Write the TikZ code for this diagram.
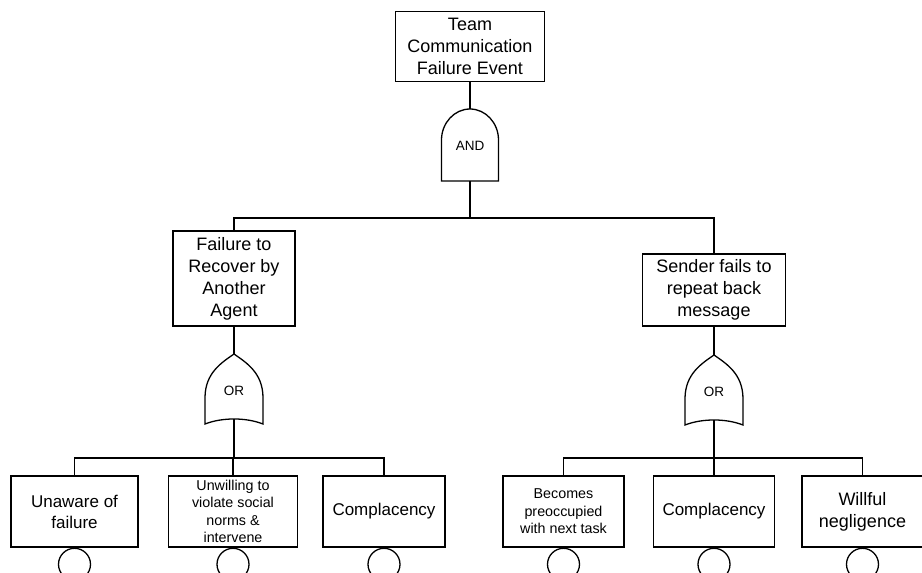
\documentclass[tikz,border=0pt]{standalone}
\usepackage{fontspec}
\setmainfont{Liberation Sans}
\begin{document}
\begin{tikzpicture}[x=1pt,y=-1pt,line width=1.3pt,
  evt/.style={draw,rectangle,inner sep=0pt,align=center,minimum height=71pt},
  big/.style={font=\fontsize{18}{22}\selectfont},
  mid/.style={font=\fontsize{17}{21}\selectfont},
  small/.style={font=\fontsize{14.3}{17.5}\selectfont},
  glbl/.style={font=\fontsize{13.5}{15}\selectfont,inner sep=0pt},
  basic/.style={draw,circle,minimum size=32pt,inner sep=0pt,anchor=north},
  andgate/.pic={
    \draw (-28.5,0) -- (-28.5,-41)
      .. controls (-28.5,-58) and (-15.7,-72) .. (0,-72)
      .. controls (15.7,-72) and (28.5,-58) .. (28.5,-41)
      -- (28.5,0) -- cycle;
    \coordinate (-top) at (0,-72);
    \coordinate (-bot) at (0,0);
    \node[glbl] (-lbl) at (0,-35) {AND};
  },
  orgate/.pic={
    \draw (0,-65) .. controls (13,-56) and (28.5,-46) .. (29,-22)
      -- (29,5) .. controls (12,-1.7) and (-12,-1.7) .. (-29,5)
      -- (-29,-22) .. controls (-28.5,-46) and (-13,-56) .. (0,-65) -- cycle;
    \coordinate (-top) at (0,-65);
    \coordinate (-bot) at (0,0);
    \node[glbl] (-lbl) at (0,-28) {OR};
  }]
  \fill[white] (0,0) rectangle (922,573);
  \clip (0,0) rectangle (922,573);

  % top event and AND gate
  \node[evt,big,minimum width=149pt,minimum height=70pt] (top) at (470,46.5)
    {Team\\Communication\\Failure Event};
  \pic (g0) at (470,181) {andgate};

  % intermediate events
  \node[evt,big,minimum width=122pt,minimum height=95pt] (lmid) at (234,278.5)
    {Failure to\\Recover by\\Another\\Agent};
  \node[evt,big,minimum width=143pt,minimum height=72pt] (rmid) at (714,290)
    {Sender fails to\\repeat back\\message};

  % OR gates
  \pic (g1) at (234,419) {orgate};
  \pic (g2) at (714,420) {orgate};

  % basic events
  \node[evt,mid,minimum width=127pt] (b1) at (74.5,511.5) {Unaware of\\failure};
  \node[evt,small,minimum width=129pt] (b2) at (233,511.5)
    {Unwilling to\\violate social\\norms \&\\intervene};
  \node[evt,mid,minimum width=122pt] (b3) at (384,511.5) {Complacency};
  \node[evt,small,minimum width=121pt] (b4) at (563.5,511.5)
    {Becomes\\preoccupied\\with next task};
  \node[evt,mid,minimum width=121pt] (b5) at (714,511.5) {Complacency};
  \node[evt,big,minimum width=121pt] (b6) at (862.5,511.5) {Willful\\negligence};

  % basic event circles
  \foreach \b in {b1,b2,b3,b4,b5,b6}
    \node[basic] (c\b) at (\b.south) {};

  % connectors
  \coordinate (bus1) at (470,218);
  \coordinate (bus2) at (234,458);
  \coordinate (bus3) at (714,458);

  \draw (top.south) -- (g0-top);
  \draw (g0-bot) -- (bus1);
  \draw (lmid.north) |- (bus1) -| (rmid.north);

  \draw (lmid.south) -- (g1-top);
  \draw (rmid.south) -- (g2-top);

  \draw (g1-bot) -- (bus2);
  \draw (b1.north) |- (bus2) -| (b3.north);
  \draw (b2.north) -- (b2.north |- bus2);

  \draw (g2-bot) -- (bus3);
  \draw (b4.north) |- (bus3) -| (b6.north);
  \draw (b5.north) -- (b5.north |- bus3);
\end{tikzpicture}
\end{document}
